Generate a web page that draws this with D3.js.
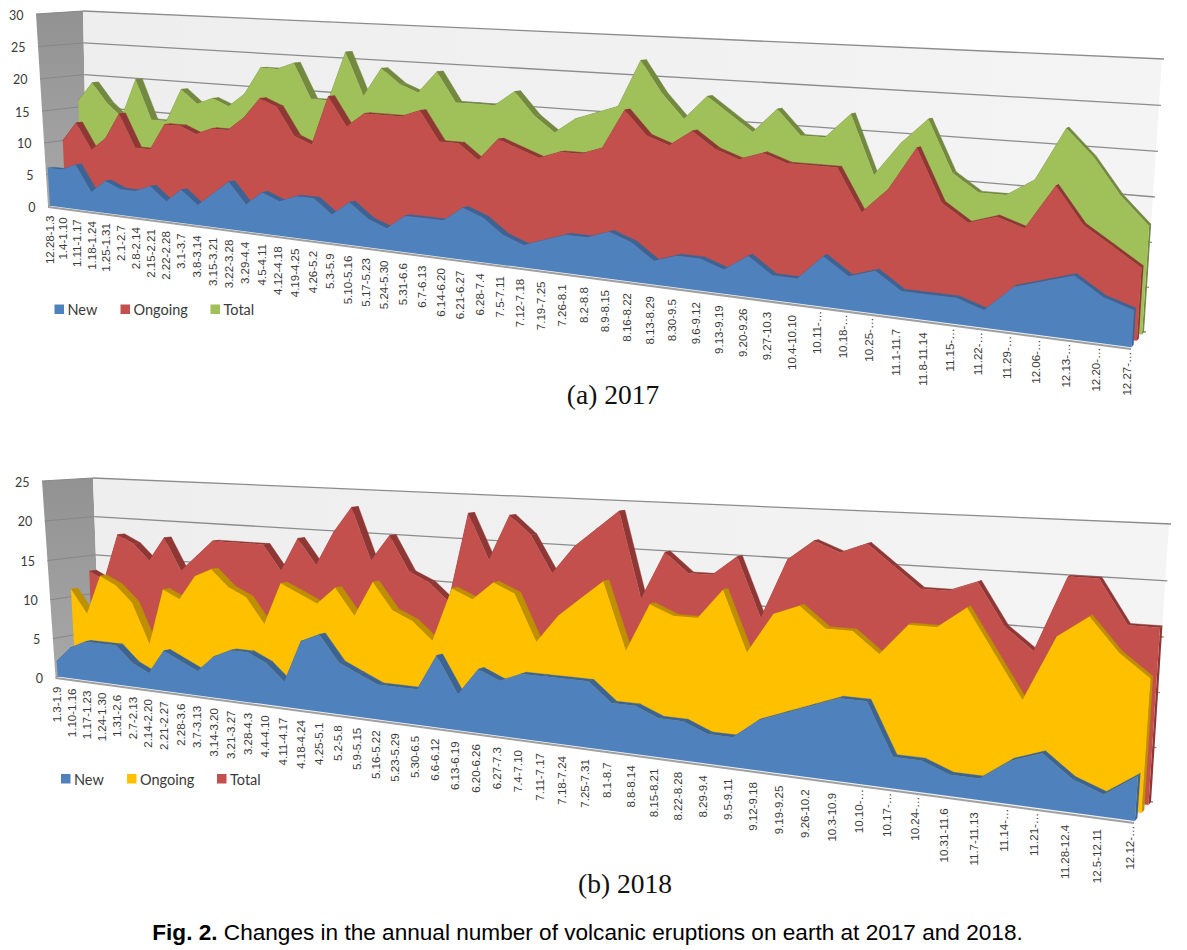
<!DOCTYPE html>
<html>
<head>
<meta charset="utf-8">
<script src="https://cdn.jsdelivr.net/npm/d3@7"></script>
<style>
  body { margin: 0; background: #fff; }
  text { fill: #3a3a3a; }
</style>
</head>
<body>
<div id="chart"></div>
<script>
'use strict';

const weeks2017 = ['12.28-1.3', '1.4-1.10', '1.11-1.17', '1.18-1.24', '1.25-1.31', '2.1-2.7', '2.8-2.14', '2.15-2.21', '2.22-2.28', '3.1-3.7', '3.8-3.14', '3.15-3.21', '3.22-3.28', '3.29-4.4', '4.5-4.11', '4.12-4.18', '4.19-4.25', '4.26-5.2', '5.3-5.9', '5.10-5.16', '5.17-5.23', '5.24-5.30', '5.31-6.6', '6.7-6.13', '6.14-6.20', '6.21-6.27', '6.28-7.4', '7.5-7.11', '7.12-7.18', '7.19-7.25', '7.26-8.1', '8.2-8.8', '8.9-8.15', '8.16-8.22', '8.13-8.29', '8.30-9.5', '9.6-9.12', '9.13-9.19', '9.20-9.26', '9.27-10.3', '10.4-10.10', '10.11-…', '10.18-…', '10.25-…', '11.1-11.7', '11.8-11.14', '11.15-…', '11.22-…', '11.29-…', '12.06-…', '12.13-…', '12.20-…', '12.27-…'];
const new2017 = [6, 6, 7, 3, 5, 4, 4, 5, 3, 5, 3, 5, 7, 4, 6, 5, 6, 6, 4, 6, 4, 3, 5, 5, 5, 7, 6, 4, 3, 4, 5, 5, 6, 5, 3, 4, 4, 3, 5, 3, 3, 6, 4, 5, 3, 3, 3, 2, 5, 6, 7, 5, 4];
const ongoing2017 = [10, 13, 9, 11, 15, 10, 10, 14, 14, 13, 14, 14, 16, 19, 18, 14, 13, 20, 16, 18, 18, 18, 19, 15, 15, 13, 16, 15, 14, 15, 15, 16, 21, 18, 17, 19, 17, 16, 17, 16, 16, 16, 11, 14, 19, 13, 11, 12, 11, 16, 12, 10, 8];
const total2017 = [16, 19, 16, 14, 20, 14, 14, 19, 17, 18, 17, 19, 23, 23, 24, 19, 19, 26, 20, 24, 22, 21, 24, 20, 20, 20, 22, 19, 17, 19, 20, 21, 27, 23, 20, 23, 21, 19, 22, 19, 19, 22, 15, 19, 22, 16, 14, 14, 16, 22, 19, 15, 12];

const weeks2018 = ['1.3-1.9', '1.10-1.16', '1.17-1.23', '1.24-1.30', '1.31-2.6', '2.7-2.13', '2.14-2.20', '2.21-2.27', '2.28-3.6', '3.7-3.13', '3.14-3.20', '3.21-3.27', '3.28-4.3', '4.4-4.10', '4.11-4.17', '4.18-4.24', '4.25-5.1', '5.2-5.8', '5.9-5.15', '5.16-5.22', '5.23-5.29', '5.30-6.5', '6.6-6.12', '6.13-6.19', '6.20-6.26', '6.27-7.3', '7.4-7.10', '7.11-7.17', '7.18-7.24', '7.25-7.31', '8.1-8.7', '8.8-8.14', '8.15-8.21', '8.22-8.28', '8.29-9.4', '9.5-9.11', '9.12-9.18', '9.19-9.25', '9.26-10.2', '10.3-10.9', '10.10-…', '10.17-…', '10.24-…', '10.31-11.6', '11.7-11.13', '11.14-…', '11.21-…', '11.28-12.4', '12.5-12.11', '12.12-…'];
const new2018 = [2, 4, 5, 5, 5, 3, 2, 5, 4, 3, 5, 6, 6, 5, 3, 8, 9, 6, 5, 4, 4, 4, 8, 4, 7, 6, 7, 7, 7, 7, 5, 5, 4, 4, 3, 3, 5, 6, 7, 8, 8, 3, 3, 2, 2, 4, 5, 3, 2, 4];
const ongoing2018 = [11, 8, 13, 12, 10, 5, 12, 11, 14, 15, 13, 12, 9, 14, 13, 12, 14, 11, 15, 12, 11, 9, 15, 14, 16, 15, 10, 13, 15, 17, 10, 15, 14, 14, 17, 11, 15, 16, 14, 14, 12, 15, 15, 17, 13, 9, 15, 17, 14, 12];
const total2018 = [13, 12, 18, 17, 15, 18, 14, 16, 18, 18, 18, 18, 15, 19, 16, 20, 23, 17, 20, 16, 15, 13, 23, 18, 23, 21, 17, 20, 22, 24, 15, 20, 18, 18, 20, 14, 20, 22, 21, 22, 20, 18, 18, 19, 15, 13, 20, 20, 16, 16];

const seriesNames = ['New', 'Ongoing', 'Total'];

const blue = { face: '#4f81bd', top: '#3b6494' };
const red = { face: '#c4504d', top: '#8f3735' };
const green = { face: '#a0c05a', top: '#72893f' };
const yellow = { face: '#ffc000', top: '#bd9000' };

// Front edge of each series along the depth of the box, 0 is front and 1 is back wall
const seriesDepth = [0.05, 0.45, 0.85];
const seriesThickness = 0.15;

const svg = d3.select('#chart')
  .append('svg')
  .attr('width', 1187)
  .attr('height', 950)
  .style('display', 'block');

const defs = svg.append('defs');

const addGradient = (id, x2, y2, from, to) => {
  const g = defs.append('linearGradient')
    .attr('id', id)
    .attr('x1', 0).attr('y1', 0)
    .attr('x2', x2).attr('y2', y2);
  g.append('stop').attr('offset', 0).attr('stop-color', from);
  g.append('stop').attr('offset', 1).attr('stop-color', to);
};

addGradient('wall', 1, 0, '#eeeeee', '#f4f4f4');
addGradient('side', 0, 1, '#929292', '#a8a8a8');

// Builds the projective map from the unit square onto a quad
// corners are [u0v0, u1v0, u1v1, u0v1]
const homography = ([p00, p10, p11, p01]) => {
  const dx1 = p10[0] - p11[0];
  const dx2 = p01[0] - p11[0];
  const dy1 = p10[1] - p11[1];
  const dy2 = p01[1] - p11[1];
  const sx = p00[0] - p10[0] + p11[0] - p01[0];
  const sy = p00[1] - p10[1] + p11[1] - p01[1];
  const det = dx1 * dy2 - dx2 * dy1;
  const g = (sx * dy2 - dx2 * sy) / det;
  const h = (dx1 * sy - sx * dy1) / det;
  const a = p10[0] - p00[0] + g * p10[0];
  const b = p01[0] - p00[0] + h * p01[0];
  const d = p10[1] - p00[1] + g * p10[1];
  const e = p01[1] - p00[1] + h * p01[1];

  return (u, v) => {
    const w = g * u + h * v + 1;
    return [(a * u + b * v + p00[0]) / w, (d * u + e * v + p00[1]) / w];
  };
};

const toPath = (pts) => `M${pts.map((p) => `${p[0].toFixed(2)},${p[1].toFixed(2)}`).join('L')}Z`;

const drawChart = (conf) => {
  const { weeks, values, colors, yMax, front, back, legend, title } = conf;
  const chart = svg.append('g');

  const frontMap = homography(front);
  const backMap = homography(back);

  const xScale = d3.scalePoint().domain(d3.range(weeks.length)).range([0, 1]);
  const yScale = d3.scaleLinear().domain([0, yMax]).range([0, 1]);

  const project = (i, value, depth) => {
    const u = xScale(i);
    const v = yScale(value);
    const f = frontMap(u, v);
    const b = backMap(u, v);
    return [f[0] + (b[0] - f[0]) * depth, f[1] + (b[1] - f[1]) * depth];
  };

  const last = weeks.length - 1;
  const yTicks = yScale.ticks(yMax / 5);

  // Side wall, back wall, floor
  chart.append('path')
    .attr('d', toPath([project(0, 0, 0), project(0, yMax, 0), project(0, yMax, 1), project(0, 0, 1)]))
    .attr('fill', 'url(#side)');
  chart.append('path')
    .attr('d', toPath([project(0, 0, 1), project(0, yMax, 1), project(last, yMax, 1), project(last, 0, 1)]))
    .attr('fill', 'url(#wall)');
  chart.append('path')
    .attr('d', toPath([project(0, 0, 0), project(0, 0, 1), project(last, 0, 1), project(last, 0, 0)]))
    .attr('fill', '#f2f2f2');

  const line = d3.line();

  chart.selectAll('.grid-side')
    .data(yTicks)
    .join('path')
    .attr('class', 'grid-side')
    .attr('d', (t) => line([project(0, t, 0), project(0, t, 1)]))
    .attr('stroke', '#878787')
    .attr('stroke-width', 1)
    .attr('fill', 'none');

  chart.selectAll('.grid-back')
    .data(yTicks)
    .join('path')
    .attr('class', 'grid-back')
    .attr('d', (t) => {
      const end = project(last, t, 1);
      return line([project(0, t, 1), [end[0] + 2, end[1]]]);
    })
    .attr('stroke', '#8c8c8c')
    .attr('stroke-width', 1.3)
    .attr('fill', 'none');

  // Painter's order, the series furthest back first
  d3.range(values.length - 1, -1, -1).forEach((s) => {
    const vals = values[s];
    const d0 = seriesDepth[s];
    const d1 = d0 + seriesThickness;
    const g = chart.append('g');

    g.append('path')
      .attr('d', toPath([project(last, 0, d0), project(last, vals[last], d0), project(last, vals[last], d1), project(last, 0, d1)]))
      .attr('fill', colors[s].top);

    g.selectAll('.top')
      .data(d3.pairs(d3.range(vals.length)))
      .join('path')
      .attr('class', 'top')
      .attr('d', ([a, b]) => toPath([project(a, vals[a], d0), project(b, vals[b], d0), project(b, vals[b], d1), project(a, vals[a], d1)]))
      .attr('fill', colors[s].top)
      .attr('stroke', colors[s].top)
      .attr('stroke-width', 0.4);

    const upper = vals.map((v, i) => project(i, v, d0));
    g.append('path')
      .attr('d', toPath([project(0, 0, d0), ...upper, project(last, 0, d0)]))
      .attr('fill', colors[s].face);
  });

  // Front edge of the floor
  chart.append('path')
    .attr('d', line([project(0, 0, 0), project(last, 0, 0)]))
    .attr('transform', 'translate(0,1)')
    .attr('stroke', '#a0a0a0')
    .attr('stroke-width', 2)
    .attr('fill', 'none');

  // Value axis labels
  chart.selectAll('.y-label')
    .data(yTicks)
    .join('text')
    .attr('class', 'y-label')
    .attr('x', (t) => project(0, t, 0)[0] - 12.5)
    .attr('y', (t) => project(0, t, 0)[1] + 1)
    .attr('text-anchor', 'end')
    .attr('dominant-baseline', 'central')
    .style('font', '12.5px Lato')
    .text((t) => t);

  // Week labels, turned and hanging under the front edge.
  // The shortened ones sit closer to the edge than the full ones
  chart.selectAll('.x-label')
    .data(weeks)
    .join('text')
    .attr('class', 'x-label')
    .attr('transform', (w, i) => {
      const [x, y] = project(i, 0, 0);
      const gap = w.endsWith('…') ? 3.5 : 9.5 + 2 * xScale(i);
      return `translate(${x + 1.5 - 6 * xScale(i)},${y + gap}) rotate(-90)`;
    })
    .attr('text-anchor', 'end')
    .attr('dominant-baseline', 'central')
    .style('font', '11.5px "Liberation Sans"')
    .text((w) => w);

  // Legend
  const keys = chart.selectAll('.key')
    .data(seriesNames)
    .join('g')
    .attr('class', 'key')
    .attr('transform', (n, i) => `translate(${legend.x[i]},${legend.y})`);
  keys.append('rect')
    .attr('width', 9.5)
    .attr('height', 9.5)
    .attr('fill', (n, i) => colors[i].face);
  keys.append('text')
    .attr('x', 13)
    .attr('y', 5)
    .attr('dominant-baseline', 'central')
    .style('font', '14.5px Lato')
    .text((n) => n);

  svg.append('text')
    .attr('x', title.x)
    .attr('y', title.y)
    .attr('text-anchor', 'middle')
    .style('font', '27.5px "Liberation Serif"')
    .style('fill', '#111')
    .text(title.text);
};

drawChart({
  weeks: weeks2017,
  values: [new2017, ongoing2017, total2017],
  colors: [blue, red, green],
  yMax: 30,
  front: [[48, 206], [1131, 348], [1149, 62], [36, 14]],
  back: [[87, 200], [1144, 332], [1162, 59], [83, 11]],
  legend: { x: [54.5, 120.5, 210.5], y: 304.5 },
  title: { x: 613, y: 404, text: '(a) 2017' },
});

drawChart({
  weeks: weeks2018,
  values: [new2018, ongoing2018, total2018],
  colors: [blue, yellow, red],
  yMax: 25,
  front: [[55.5, 677], [1134, 822], [1154, 531], [42, 481]],
  back: [[100, 668], [1151, 802], [1169, 524], [93, 478]],
  legend: { x: [61, 127, 217], y: 774 },
  title: { x: 625, y: 893, text: '(b) 2018' },
});

const caption = svg.append('text')
  .attr('x', 587.5)
  .attr('y', 940)
  .attr('text-anchor', 'middle')
  .style('font', '22.6px "Liberation Sans"')
  .style('fill', '#000');
caption.append('tspan').style('font-weight', 'bold').text('Fig. 2.');
caption.append('tspan').text(' Changes in the annual number of volcanic eruptions on earth at 2017 and 2018.');
</script>
</body>
</html>
